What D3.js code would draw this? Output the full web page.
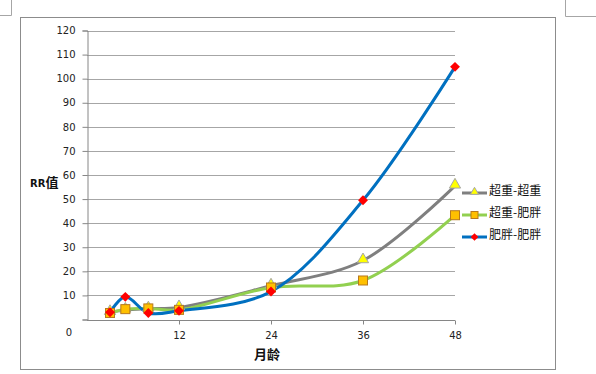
<!DOCTYPE html>
<html>
<head>
<meta charset="utf-8">
<script src="https://cdn.jsdelivr.net/npm/d3@7"></script>
<style>
  body { margin: 0; background: #fff; }
  svg { display: block; }
</style>
</head>
<body>
<div class="chart"></div>
<script>
// data
var months = [3, 5, 8, 12, 24, 36, 48];
var owOw = [3.0, 4.0, 4.5, 5.0, 14.0, 24.5, 55.5];   // 超重-超重
var owOb = [2.7, 4.3, 4.6, 4.0, 13.3, 16.2, 43.3];   // 超重-肥胖
var obOb = [3.0, 9.4, 2.7, 3.6, 11.6, 49.5, 104.9];  // 肥胖-肥胖
var seriesNames = ["超重-超重", "超重-肥胖", "肥胖-肥胖"];
var yTicks = [10, 20, 30, 40, 50, 60, 70, 80, 90, 100, 110, 120];
var xTicks = [12, 24, 36, 48];

var width = 596, height = 374;

var svg = d3.select("div.chart").append("svg")
    .attr("width", width)
    .attr("height", height);

// little page corner marks
svg.append("path")
    .attr("d", "M0,15.5H11.5V0 M596,16.5H565.5V0")
    .attr("fill", "none")
    .attr("stroke", "#a6a6a6");

// chart frame
svg.append("rect")
    .attr("x", 20.5).attr("y", 17.5)
    .attr("width", 535).attr("height", 352)
    .attr("fill", "#fff")
    .attr("stroke", "#8c8c8c");

var x = d3.scaleLinear().domain([0, 48]).range([87, 455]);
var y = d3.scaleLinear().domain([0, 120]).range([319.5, 30.5]);

var font = "'DejaVu Sans', Verdana, sans-serif";

// gridlines
svg.append("g").selectAll("line")
    .data(yTicks)
  .enter().append("line")
    .attr("x1", x(0)).attr("x2", x(48))
    .attr("y1", function(d) { return Math.round(y(d)) + 0.5; })
    .attr("y2", function(d) { return Math.round(y(d)) + 0.5; })
    .attr("stroke", "#a6a6a6");

// y axis
var yAxis = svg.append("g")
    .attr("transform", "translate(" + (x(0) + 0.5) + ",0)")
    .call(d3.axisLeft(y).tickValues(yTicks.concat([0])).tickSize(5).tickPadding(7).tickFormat(function(d) { return d === 0 ? "" : d; }));
yAxis.select(".domain").attr("stroke", "#868686");
yAxis.selectAll(".tick line").attr("stroke", "#868686");
yAxis.selectAll("text").attr("font-family", font).attr("font-size", 10).attr("fill", "#222");

// x axis
var xAxis = svg.append("g")
    .attr("transform", "translate(0," + (Math.round(y(0)) + 0.5) + ")")
    .call(d3.axisBottom(x).tickValues(xTicks).tickSize(4).tickPadding(7));
xAxis.select(".domain").attr("stroke", "#868686").attr("d", "M" + x(0) + ",0H" + x(48));
xAxis.selectAll(".tick line").attr("stroke", "#868686");
xAxis.selectAll("text").attr("font-family", font).attr("font-size", 10).attr("fill", "#222");

// lone "0" label below the origin
svg.append("text")
    .attr("x", x(0) - 18).attr("y", y(0) + 16)
    .attr("text-anchor", "middle")
    .attr("font-family", font).attr("font-size", 10).attr("fill", "#222")
    .text("0");

// axis titles
var yTitle = svg.append("text")
    .attr("x", 30).attr("y", 187)
    .attr("font-family", "'Noto Sans CJK SC', sans-serif")
    .attr("font-weight", "bold").attr("fill", "#111");
yTitle.append("tspan").attr("font-size", 10).attr("font-family", font).text("RR");
yTitle.append("tspan").attr("font-size", 13).text("值");

svg.append("text")
    .attr("x", 267).attr("y", 359)
    .attr("text-anchor", "middle")
    .attr("font-family", "'Noto Sans CJK SC', sans-serif")
    .attr("font-size", 13).attr("font-weight", "bold").attr("fill", "#111")
    .text("月龄");

// series
var series = [
  {name: seriesNames[0], values: owOw, color: "#7f7f7f", marker: "triangle"},
  {name: seriesNames[1], values: owOb, color: "#92d050", marker: "square"},
  {name: seriesNames[2], values: obOb, color: "#0070c0", marker: "diamond"}
];

var line = d3.line()
    .x(function(d) { return x(d[0]); })
    .y(function(d) { return y(d[1]); })
    .curve(d3.curveCatmullRom.alpha(0.5));

function drawMarker(g, type, cx, cy, s) {
  if (type === "triangle") {
    g.append("path")
      .attr("d", d3.symbol(d3.symbolTriangle, s * s * 0.45)())
      .attr("transform", "translate(" + cx + "," + (cy - 1) + ")")
      .attr("fill", "#ffff00").attr("stroke", "#a6a6a6").attr("stroke-width", 1);
  } else if (type === "square") {
    g.append("rect")
      .attr("x", cx - s / 2).attr("y", cy - s / 2)
      .attr("width", s).attr("height", s)
      .attr("fill", "#ffc000").attr("stroke", "#b7791f").attr("stroke-width", 1);
  } else {
    var h = s * 0.55;
    g.append("path")
      .attr("d", "M" + cx + "," + (cy - h) + "L" + (cx + h) + "," + cy + "L" + cx + "," + (cy + h) + "L" + (cx - h) + "," + cy + "Z")
      .attr("fill", "#ff0000");
  }
}

var plot = svg.append("g");
series.forEach(function(s) {
  var pts = months.map(function(m, i) { return [m, s.values[i]]; });
  plot.append("path")
      .datum(pts)
      .attr("d", line)
      .attr("fill", "none")
      .attr("stroke", s.color)
      .attr("stroke-width", 3);
});
series.forEach(function(s) {
  var g = plot.append("g");
  months.forEach(function(m, i) {
    drawMarker(g, s.marker, x(m), y(s.values[i]), s.marker === "triangle" ? 11 : (s.marker === "square" ? 9 : 9));
  });
});

// legend
var legend = svg.append("g");
series.forEach(function(s, i) {
  var ly = 192 + i * 22;
  legend.append("line")
      .attr("x1", 462).attr("x2", 487)
      .attr("y1", ly + 1).attr("y2", ly + 1)
      .attr("stroke", s.color).attr("stroke-width", 3);
  drawMarker(legend, s.marker, 474.5, ly + 1, s.marker === "triangle" ? 8 : 7);
  legend.append("text")
      .attr("x", 489).attr("y", ly)
      .attr("dominant-baseline", "middle")
      .attr("font-family", "'Noto Sans CJK SC', sans-serif")
      .attr("font-size", 12).attr("fill", "#111")
      .text(s.name);
});
</script>
</body>
</html>
